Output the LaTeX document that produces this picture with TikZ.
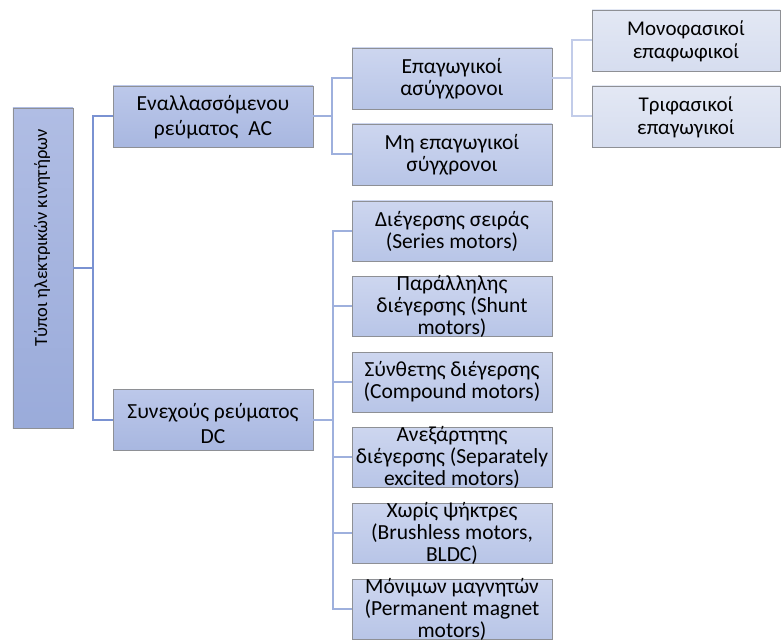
\documentclass[tikz,border=0pt]{standalone}
\usepackage{fontspec}
\setmainfont{Carlito}
\definecolor{rootT}{HTML}{B0BDE4}
\definecolor{rootB}{HTML}{9AABDA}
\definecolor{lvTwoT}{HTML}{BCC8EA}
\definecolor{lvTwoB}{HTML}{A8B7E0}
\definecolor{lvThrT}{HTML}{CDD6EF}
\definecolor{lvThrB}{HTML}{B8C5E7}
\definecolor{lvFouT}{HTML}{E3E8F4}
\definecolor{lvFouB}{HTML}{D6DDEF}
\definecolor{edgeGray}{HTML}{8E9095}
\definecolor{lnOne}{HTML}{7A92D2}
\definecolor{lnTwo}{HTML}{9EB0DD}
\definecolor{lnThr}{HTML}{C2CCE9}
\begin{document}
\begin{tikzpicture}[x=1bp,y=-1bp,
  boxbase/.style={draw=edgeGray, line width=0.9bp, inner sep=0pt, rectangle},
  rootbox/.style={boxbase, top color=rootT, bottom color=rootB, minimum width=60bp, minimum height=320bp},
  twobox/.style={boxbase, top color=lvTwoT, bottom color=lvTwoB, minimum width=200bp, minimum height=61bp},
  thrbox/.style={boxbase, top color=lvThrT, bottom color=lvThrB, minimum width=200bp, minimum height=60bp},
  foubox/.style={boxbase, top color=lvFouT, bottom color=lvFouB, minimum width=188bp, minimum height=61bp},
  twotxt/.style={align=center, font=\fontsize{21.5bp}{25bp}\selectfont, inner sep=0pt},
  thrtxt/.style={align=center, font=\fontsize{21.5bp}{22bp}\selectfont, inner sep=0pt},
  foutxt/.style={align=center, font=\fontsize{21bp}{23bp}\selectfont, inner sep=0pt},
  linkone/.style={draw=lnOne, line width=2bp},
  linktwo/.style={draw=lnTwo, line width=2bp},
  linkthr/.style={draw=lnThr, line width=2bp}
]
\useasboundingbox (0,0) rectangle (781,641);

% boxes
\node[rootbox] (root) at (43,268) {};
\node[twobox] (ac) at (213,116.5) {};
\node[twobox] (dc) at (213,420) {};
\node[thrbox, minimum height=61bp] (ind) at (452,78.5) {};
\node[thrbox, minimum height=61bp] (nind) at (452,154.5) {};
\node[foubox] (mono) at (686,40.5) {};
\node[foubox] (tri) at (686,116.5) {};
\node[thrbox] (d1) at (452,231) {};
\node[thrbox] (d2) at (452,306) {};
\node[thrbox] (d3) at (452,382) {};
\node[thrbox] (d4) at (452,457) {};
\node[thrbox] (d5) at (452,533) {};
\node[thrbox] (d6) at (452,609) {};

% connectors
\coordinate (j0) at (93,268);
\coordinate (j1) at (332,116.5);
\coordinate (j2) at (572,78.5);
\coordinate (j3) at (333,420);
\draw[linkone] (root.east) -- (j0);
\draw[linkone] (j0) |- (ac.west);
\draw[linkone] (j0) |- (dc.west);
\draw[linktwo] (ac.east) -- (j1);
\draw[linktwo] (j1) |- (ind.west);
\draw[linktwo] (j1) |- (nind.west);
\draw[linkthr] (ind.east) -- (j2);
\draw[linkthr] (j2) |- (mono.west);
\draw[linkthr] (j2) |- (tri.west);
\draw[linktwo] (dc.east) -- (j3);
\foreach \k in {d1,d2,d3,d4,d5,d6} { \draw[linktwo] (j3) |- (\k.west); }

% texts
\node[rotate=90, inner sep=0pt, font=\fontsize{18.5bp}{22bp}\selectfont] (roottxt) at (42,238) {Τύποι ηλεκτρικών κινητήρων};
\node[twotxt] (actxt) at (213,117) {Εναλλασσόμενου\\ρεύματος\ \ AC};
\node[twotxt] (dctxt) at (213,424) {Συνεχούς ρεύματος\\DC};
\node[thrtxt] (indtxt) at (ind) {Επαγωγικοί\\ασύγχρονοι};
\node[thrtxt] (nindtxt) at (nind) {Μη επαγωγικοί\\σύγχρονοι};
\node[foutxt] (monotxt) at (686,41) {Μονοφασικοί\\επαφωφικοί};
\node[foutxt] (tritxt) at (686,117) {Τριφασικοί\\επαγωγικοί};
\node[thrtxt] (d1txt) at (d1) {Διέγερσης σειράς\\(Series motors)};
\node[thrtxt] (d2txt) at (d2) {Παράλληλης\\διέγερσης (Shunt\\motors)};
\node[thrtxt] (d3txt) at (d3) {Σύνθετης διέγερσης\\(Compound motors)};
\node[thrtxt] (d4txt) at (d4) {Ανεξάρτητης\\διέγερσης (Separately\\excited motors)};
\node[thrtxt] (d5txt) at (d5) {Χωρίς ψήκτρες\\(Brushless motors,\\BLDC)};
\node[thrtxt] (d6txt) at (d6) {Μόνιμων μαγνητών\\(Permanent magnet\\motors)};
\end{tikzpicture}
\end{document}
